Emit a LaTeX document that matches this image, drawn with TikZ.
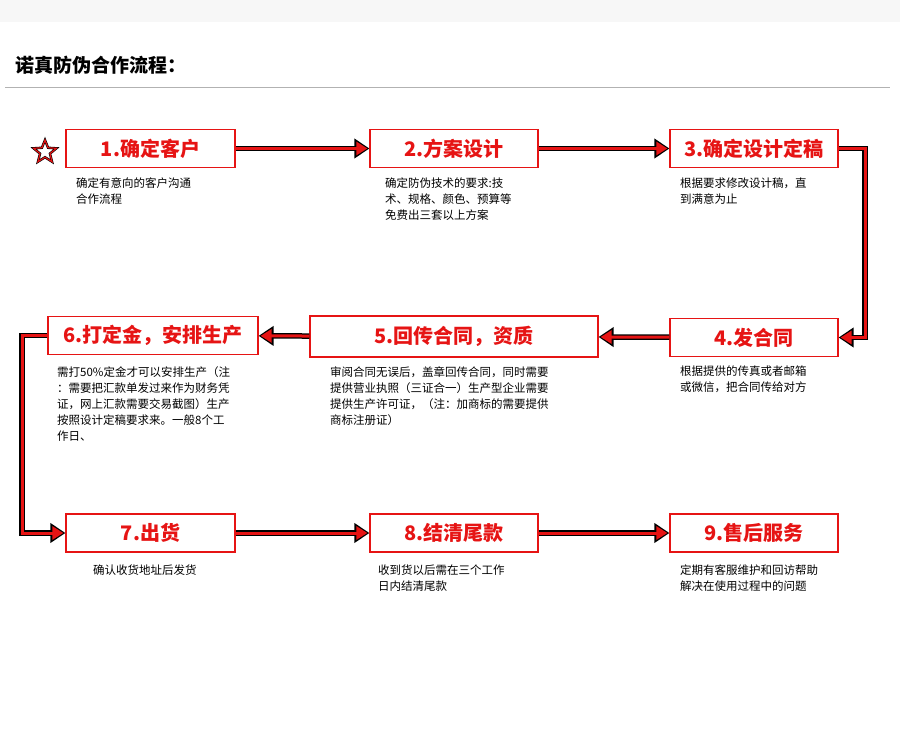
\documentclass[tikz,border=0pt]{standalone}
\usepackage{fontspec}
\setmainfont{Noto Sans CJK SC}
\usetikzlibrary{arrows.meta,shapes.geometric}
\definecolor{stepred}{RGB}{230,20,20}
\begin{document}
\begin{tikzpicture}[x=1pt,y=-1pt,
  stepbox/.style = {draw=stepred,line width=1.2pt,minimum height=38pt,text=stepred,font=\fontsize{20}{20}\bfseries\selectfont,inner sep=0pt},
  note/.style = {anchor=north west,align=left,font=\fontsize{11.5}{16}\selectfont,inner sep=0pt},
  flow/.style = {line width=5.5pt,draw=black,-{Triangle[length=15pt,width=19pt]},
    postaction={draw=stepred,line width=3pt,-{Triangle[length=11pt,width=13pt]},shorten >=2pt}}]
\useasboundingbox (0,0) rectangle (900,739);
\fill[gray!6] (0,0) rectangle (900,22);
\node[anchor=west,font=\fontsize{19}{19}\bfseries\selectfont,inner sep=0pt] (title) at (15,65) {诺真防伪合作流程：};
\draw[gray!60,line width=0.8pt] (5,87) -- (890,87);
\node[draw=black,fill=white,star,star points=5,star point ratio=2.3,minimum size=24pt,inner sep=0pt,line width=2.4pt,
  postaction={draw=stepred,line width=1.2pt}] (star) at (45,152) {};

\node[stepbox,minimum width=169pt] (s1) at (150.5,148.5) {1.确定客户};
\node[stepbox,minimum width=168pt] (s2) at (454,148.5) {2.方案设计};
\node[stepbox,minimum width=168pt] (s3) at (754,148.5) {3.确定设计定稿};
\node[stepbox,minimum width=168pt] (s4) at (754,337.5) {4.发合同};
\node[stepbox,minimum width=288pt,minimum height=41pt] (s5) at (454,336.5) {5.回传合同，资质};
\node[stepbox,minimum width=210pt] (s6) at (153,335.5) {6.打定金，安排生产};
\node[stepbox,minimum width=169pt] (s7) at (150.5,533) {7.出货};
\node[stepbox,minimum width=168pt] (s8) at (454,533) {8.结清尾款};
\node[stepbox,minimum width=168pt] (s9) at (754,533) {9.售后服务};

\coordinate (c3) at (865,148.5);
\coordinate (c4) at (865,337.5);
\coordinate (c6) at (22,335.5);
\coordinate (c7) at (22,533);

\draw[flow] (s1) -- (s2);
\draw[flow] (s2) -- (s3);
\draw[flow] (s3.east) -- (c3) -- (c4) -- (s4.east);
\draw[flow] (s4) -- (s5);
\draw[flow] (s5) -- (s6);
\draw[flow] (s6.west) -- (c6) -- (c7) -- (s7.west);
\draw[flow] (s7) -- (s8);
\draw[flow] (s8) -- (s9);

\node[note] (t1) at (76,178) {确定有意向的客户沟通\\合作流程};
\node[note] (t2) at (385,178) {确定防伪技术的要求:技\\术、规格、颜色、预算等\\免费出三套以上方案};
\node[note] (t3) at (680,178) {根据要求修改设计稿，直\\到满意为止};
\node[note] (t4) at (680,366) {根据提供的传真或者邮箱\\或微信，把合同传给对方};
\node[note] (t5) at (330,366) {审阅合同无误后，盖章回传合同，同时需要\\提供营业执照（三证合一）生产型企业需要\\提供生产许可证，（注：加商标的需要提供\\商标注册证）};
\node[note] (t6) at (57,366) {需打50\%定金才可以安排生产（注\\：需要把汇款单发过来作为财务凭\\证，网上汇款需要交易截图）生产\\按照设计定稿要求来。一般8个工\\作日、};
\node[note] (t7) at (93,565) {确认收货地址后发货};
\node[note] (t8) at (378,565) {收到货以后需在三个工作\\日内结清尾款};
\node[note] (t9) at (680,565) {定期有客服维护和回访帮助\\解决在使用过程中的问题};
\end{tikzpicture}
\end{document}
